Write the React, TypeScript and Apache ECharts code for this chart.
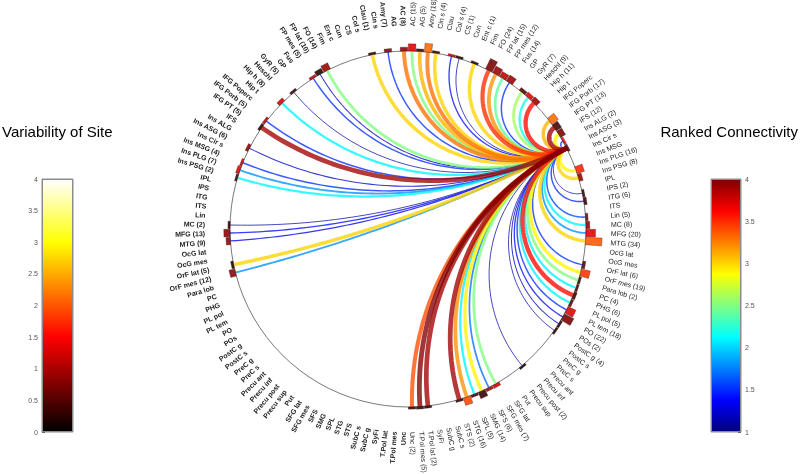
import React, { useEffect, useRef } from "react";
import * as echarts from "echarts";

// Region names (same order on both hemispheres, top to bottom)
const REGIONS = ["AC","AG","Amy","Cin s","Clau","Col s","CS","Cun","Ent c","Fim","FO","FP lat","FP mes","Fus","GP","GyR","Heschl","Hip h","Hip t","IFG Poperc","IFG Porb","IFG PT","IFS","Ins ALG","Ins ASG","Ins Cir s","Ins MSG","Ins PLG","Ins PSG","IPL","IPS","ITG","ITS","Lin","MC","MFG","MTG","OcG lat","OcG mes","OrF lat","OrF mes","Para lob","PC","PHG","PL pol","PL tem","PO","POs","PostC g","PostC s","PreC g","PreC s","Precu ant","Precu inf","Precu post","Precu sup","Put","SFG lat","SFG mes","SFS","SMG","SPL","STG","STS","SubC s","SubC g","SyFi","T.Pol lat","T.Pol mes","Unc"];

// Right hemisphere (regular labels)
const RIGHT_COUNTS = [15,5,18,4,0,4,1,0,1,0,24,15,12,14,0,7,9,11,0,0,17,13,12,2,3,0,0,16,8,0,2,6,0,5,8,20,34,0,0,6,19,2,4,6,5,18,22,2,4,0,0,0,0,0,2,0,0,0,7,6,14,5,16,2,0,0,0,2,5,2];
const RIGHT_LINK = [2.5,3.1,3.3,3.0,0,1.4,1.1,0,3.0,0,3.5,3.2,2.4,1.5,0,2.6,2.2,3.6,0,0,3.1,3.9,2.9,1.5,0,0,0,2.9,3.0,0,1.1,1.5,0,1.6,2.1,1.8,3.0,0,0,1.5,2.9,2.5,2.1,3.6,2.1,1.5,1.4,1.15,1.1,0,0,0,0,0,1.1,0,0,0,2.5,1.7,2.9,2.1,3.2,3.9,0,0,0,3.9,4.0,3.4];
const RIGHT_VAR = [1.3,0.3,2.1,0.3,0,1.2,0.2,0,0.2,0,0.7,0.9,1.1,0.9,0,0.5,1.3,0.9,0,0,2.1,0.4,0.7,1.4,0.5,0,0,1.7,0.9,0,0.3,0.3,0,0.7,0.8,1.3,2.0,0,0,0.5,1.8,0.3,0.4,0.3,0.5,1.3,0.7,0.2,0.2,0,0,0,0,0,0.1,0,0,0,1.2,1.0,0.3,0.4,1.9,0.3,0,0,0,0.2,0.3,0.3];

// Left hemisphere (bold labels)
const LEFT_COUNTS = [8,0,7,0,1,0,0,0,0,0,14,10,5,0,0,5,0,8,0,0,5,5,0,0,6,0,4,7,2,0,0,0,0,0,2,13,9,0,0,5,12,0,0,0,0,0,0,0,0,0,0,0,0,0,0,0,0,0,0,0,0,0,0,0,0,0,0,0,0,0];
const LEFT_LINK = [3.3,0,1.5,0,3.0,0,0,0,0,0,2.5,1.2,1.5,0,0,1.1,0,2.1,0,0,1.5,3.9,0,0,1.2,0,1.5,1.8,2.1,0,0,0,0,0,1.1,1.4,1.3,0,0,3.0,1.8,0,0,0,0,0,0,0,0,0,0,0,0,0,0,0,0,0,0,0,0,0,0,0,0,0,0,0,0,0];
const LEFT_VAR = [0.8,0,0.8,0,0.3,0,0,0,0,0,0.9,0.2,1.1,0,0,0.3,0,1.2,0,0,1.1,0.2,0,0,0.8,0,1.2,1.3,0.3,0,0,0,0,0,0.3,0.8,0.8,0,0,0.1,0.8,0,0,0,0,0,0,0,0,0,0,0,0,0,0,0,0,0,0,0,0,0,0,0,0,0,0,0,0,0];

const HUB_INDEX = 24; // right Ins ASG
const VAR_TICKS = { min: 0, max: 4, step: 0.5 };
const LINK_TICKS = { min: 1, max: 4, step: 0.5 };

const SLOTS = REGIONS.length * 2;
const FONT = "Liberation Sans, Arial, Helvetica, sans-serif";
const rightPos = (k: number) => k + 0.5;
const leftPos = (i: number) => SLOTS - 0.5 - i;
const HUB = rightPos(HUB_INDEX);
const LABEL_R = 1.14;

const c01 = (x: number) => Math.max(0, Math.min(1, x));
const hex = (r: number, g: number, b: number) =>
  "#" + [r, g, b].map((v) => Math.round(c01(v) * 255).toString(16).padStart(2, "0")).join("");
const jet = (t: number) => hex(1.5 - Math.abs(4 * t - 3), 1.5 - Math.abs(4 * t - 2), 1.5 - Math.abs(4 * t - 1));
const hot = (t: number) => hex(t / 0.375, (t - 0.375) / 0.375, (t - 0.75) / 0.25);
const JET = Array.from({ length: 33 }, (_, i) => jet(i / 32));
const HOT = Array.from({ length: 33 }, (_, i) => hot(i / 32));
const gradient = (cols: string[]) =>
  new echarts.graphic.LinearGradient(0, 0, 0, 1, cols.map((c, i) => ({ offset: 1 - i / (cols.length - 1), color: c })).reverse());

export default function App() {
  const ref = useRef<HTMLDivElement>(null);
  useEffect(() => {
    if (!ref.current) return;
    const chart = echarts.init(ref.current, undefined, { renderer: "svg" });

    const links: number[][] = [];
    RIGHT_LINK.forEach((v, k) => { if (v > 0 && k !== HUB_INDEX) links.push([rightPos(k), v]); });
    LEFT_LINK.forEach((v, i) => { if (v > 0) links.push([leftPos(i), v]); });
    links.sort((a, b) => a[1] - b[1]);

    const bars: number[][] = [];
    RIGHT_COUNTS.forEach((n, k) => { if (n > 0) bars.push([rightPos(k), RIGHT_VAR[k], n]); });
    LEFT_COUNTS.forEach((n, i) => { if (n > 0) bars.push([leftPos(i), LEFT_VAR[i], n]); });

    const labels: number[][] = [];
    REGIONS.forEach((_, k) => labels.push([rightPos(k), 0, k]));
    REGIONS.forEach((_, i) => labels.push([leftPos(i), 1, i]));

    const option: any = {
      animation: false,
      textStyle: { fontFamily: FONT },
      title: [
        { text: "Variability of Site", left: 2, top: 124, padding: 0, textStyle: { fontSize: 15, fontWeight: "normal", color: "#000", fontFamily: FONT } },
        { text: "Ranked Connectivity", right: 2, top: 124, padding: 0, textStyle: { fontSize: 15, fontWeight: "normal", color: "#000", fontFamily: FONT } },
      ],
      polar: { center: [408, 229], radius: 178 },
      angleAxis: {
        type: "value", min: 0, max: SLOTS, startAngle: 90, clockwise: true,
        axisLine: { show: true, lineStyle: { color: "#6a6a6a", width: 0.9 } },
        axisTick: { show: false }, axisLabel: { show: false }, splitLine: { show: false },
      },
      radiusAxis: {
        type: "value", min: 0, max: 1,
        axisLine: { show: false }, axisTick: { show: false }, axisLabel: { show: false }, splitLine: { show: false },
      },
      grid: [
        { left: 42, top: 179, width: 31, height: 253, show: true, borderColor: "#8c8c8c", borderWidth: 1 },
        { left: 711, top: 179, width: 30, height: 253, show: true, borderColor: "#8c8c8c", borderWidth: 1 },
      ],
      xAxis: [
        { gridIndex: 0, type: "category", data: [""], show: false },
        { gridIndex: 1, type: "category", data: [""], show: false },
      ],
      yAxis: [
        {
          gridIndex: 0, type: "value", min: VAR_TICKS.min, max: VAR_TICKS.max, interval: VAR_TICKS.step, position: "left",
          axisLine: { show: false }, splitLine: { show: false },
          axisTick: { show: true, inside: true, length: 3, lineStyle: { color: "#666" } },
          axisLabel: { fontSize: 7, color: "#555", margin: 4, fontFamily: FONT },
        },
        {
          gridIndex: 1, type: "value", min: LINK_TICKS.min, max: LINK_TICKS.max, interval: LINK_TICKS.step, position: "right",
          axisLine: { show: false }, splitLine: { show: false },
          axisTick: { show: true, inside: true, length: 3, lineStyle: { color: "#666" } },
          axisLabel: { fontSize: 7, color: "#555", margin: 4, fontFamily: FONT },
        },
      ],
      visualMap: [
        { type: "continuous", show: false, min: 1, max: 4, dimension: 1, seriesIndex: 0, inRange: { color: JET } },
        { type: "continuous", show: false, min: 0, max: 4, dimension: 1, seriesIndex: 1, inRange: { color: HOT } },
      ],
      series: [
        {
          type: "custom", coordinateSystem: "polar", silent: true, data: links,
          renderItem: (params: any, api: any) => {
            const pos = api.value(0), v = api.value(1);
            const c = api.coord([0, 0]);
            const a = api.coord([1, HUB]);
            const b = api.coord([1, pos]);
            const R = Math.hypot(a[0] - c[0], a[1] - c[1]);
            const u1 = [(a[0] - c[0]) / R, (a[1] - c[1]) / R];
            const u2 = [(b[0] - c[0]) / R, (b[1] - c[1]) / R];
            const d = u1[0] * u2[0] + u1[1] * u2[1];
            let pts: number[][] = [];
            if (1 + d < 0.005) pts = [a, b];
            else {
              const qx = (u1[0] + u2[0]) / (1 + d), qy = (u1[1] + u2[1]) / (1 + d);
              const rho = Math.hypot(u1[0] - qx, u1[1] - qy);
              const t1 = Math.atan2(u1[1] - qy, u1[0] - qx);
              let dt = Math.atan2(u2[1] - qy, u2[0] - qx) - t1;
              while (dt > Math.PI) dt -= 2 * Math.PI;
              while (dt < -Math.PI) dt += 2 * Math.PI;
              for (let s = 0; s <= 60; s++) {
                const t = t1 + (dt * s) / 60;
                pts.push([c[0] + R * (qx + rho * Math.cos(t)), c[1] + R * (qy + rho * Math.sin(t))]);
              }
            }
            return {
              type: "polyline", shape: { points: pts },
              style: { stroke: api.visual("color"), lineWidth: 0.8 + (v - 1) * 1.35, opacity: 0.78, fill: null },
            };
          },
        },
        {
          type: "custom", coordinateSystem: "polar", silent: true, data: bars,
          renderItem: (params: any, api: any) => {
            const pos = api.value(0), n = api.value(2);
            const L = Math.max(0.012, n * 0.0027);
            const w = 0.46;
            const pts = [api.coord([1, pos - w]), api.coord([1, pos + w]), api.coord([1 + L, pos + w]), api.coord([1 + L, pos - w])];
            return { type: "polygon", shape: { points: pts }, style: { fill: api.visual("color"), stroke: "rgba(40,10,10,0.55)", lineWidth: 0.6, opacity: 0.88 } };
          },
        },
        {
          type: "custom", coordinateSystem: "polar", silent: true, data: labels,
          renderItem: (params: any, api: any) => {
            const pos = api.value(0), side = api.value(1), idx = api.value(2);
            const p = api.coord([LABEL_R, pos]);
            const theta = (pos * 360) / SLOTS;
            const n = side === 0 ? RIGHT_COUNTS[idx] : LEFT_COUNTS[idx];
            const text = REGIONS[idx] + (n ? ` (${n})` : "");
            const rot = side === 0 ? 90 - theta : 270 - theta;
            return {
              type: "text", x: p[0], y: p[1], rotation: (rot * Math.PI) / 180,
              style: {
                text, fontSize: 7, fontFamily: FONT, fontWeight: side === 1 ? "bold" : "normal",
                fill: "#222", align: side === 0 ? "left" : "right", verticalAlign: "middle",
              },
            };
          },
        },
        {
          type: "bar", xAxisIndex: 0, yAxisIndex: 0, data: [VAR_TICKS.max], barWidth: "100%", silent: true,
          itemStyle: { color: gradient(HOT), borderColor: "#8c8c8c", borderWidth: 1 },
        },
        {
          type: "bar", xAxisIndex: 1, yAxisIndex: 1, data: [LINK_TICKS.min], stack: "cb", barWidth: "100%", silent: true,
          itemStyle: { color: "rgba(0,0,0,0)" },
        },
        {
          type: "bar", xAxisIndex: 1, yAxisIndex: 1, data: [LINK_TICKS.max - LINK_TICKS.min], stack: "cb", barWidth: "100%", silent: true,
          itemStyle: { color: gradient(JET), borderColor: "#8c8c8c", borderWidth: 1 },
        },
      ],
    };
    chart.setOption(option);
    return () => chart.dispose();
  }, []);
  return <div ref={ref} style={{ position: "fixed", left: 0, top: 0, width: 800, height: 474 }} />;
}
